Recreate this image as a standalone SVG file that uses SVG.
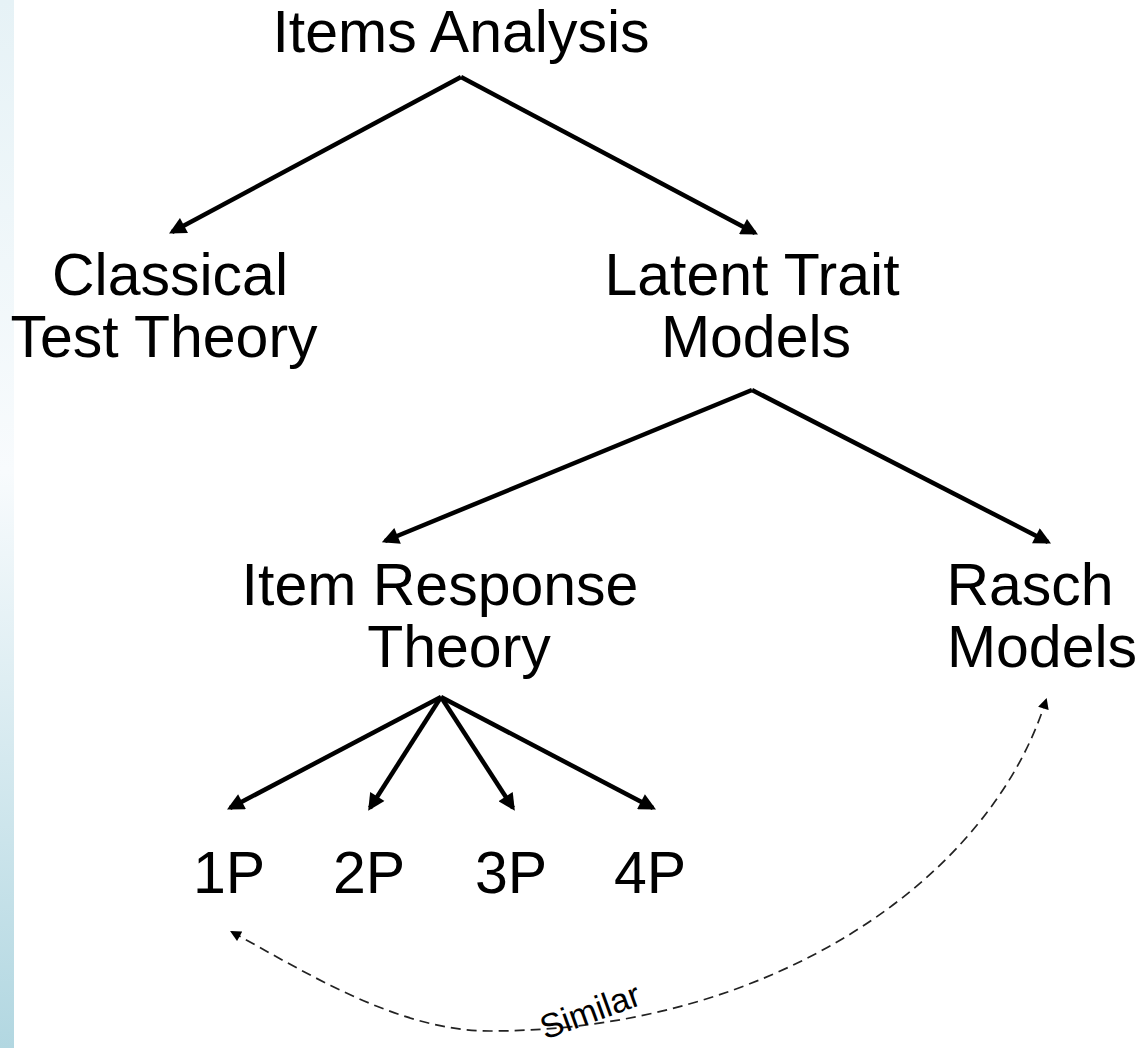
<svg xmlns="http://www.w3.org/2000/svg" width="1143" height="1048" viewBox="0 0 1143 1048">
  <defs>
    <linearGradient id="strip" x1="0" y1="0" x2="0" y2="1">
      <stop offset="0" stop-color="#e6f2f6"/>
      <stop offset="0.45" stop-color="#f8fbfd"/>
      <stop offset="1" stop-color="#b2d7e1"/>
    </linearGradient>
    <marker id="arr" viewBox="0 0 10 10" refX="8" refY="5" markerUnits="userSpaceOnUse" markerWidth="20" markerHeight="17" orient="auto">
      <path d="M0,0 L10,5 L0,10 z" fill="#000"/>
    </marker>
    <marker id="arrs" viewBox="0 0 10 10" refX="8" refY="5" markerUnits="userSpaceOnUse" markerWidth="12" markerHeight="11" orient="auto-start-reverse">
      <path d="M0,0 L10,5 L0,10 z" fill="#000"/>
    </marker>
  </defs>
  <style>
    text { font-family: "Liberation Sans", Arial, sans-serif; fill: #000; text-anchor: middle; }
    .lbl { font-size: 59px; }
    .sm { font-size: 34px; }
    .c { stroke: #000; stroke-width: 4.5; fill: none; marker-end: url(#arr); }
    .d { stroke: #222; stroke-width: 1.7; fill: none; stroke-dasharray: 10 6; }
  </style>
  <rect x="0" y="0" width="1143" height="1048" fill="#fff"/>
  <rect x="0" y="0" width="14" height="1048" fill="url(#strip)"/>

  <g id="connectors">
    <line class="c" x1="461" y1="77" x2="172" y2="232"/>
    <line class="c" x1="461" y1="77" x2="755" y2="233"/>
    <line class="c" x1="752" y1="390" x2="385" y2="541"/>
    <line class="c" x1="752" y1="390" x2="1048" y2="542"/>
    <line class="c" x1="441" y1="697" x2="230" y2="808"/>
    <line class="c" x1="441" y1="697" x2="370" y2="808"/>
    <line class="c" x1="441" y1="697" x2="513" y2="808"/>
    <line class="c" x1="441" y1="697" x2="653" y2="808"/>
    <path class="d" d="M232,932 C310,975 400,1031 490,1031 C770,1031 990,880 1046,700" marker-start="url(#arrs)" marker-end="url(#arrs)"/>
    <text class="sm" transform="translate(594,1022) rotate(-20)">Similar</text>
  </g>

  <g id="n-items"><text class="lbl" x="461" y="52">Items Analysis</text></g>
  <g id="n-ctt"><text class="lbl" x="170" y="295">Classical</text><text class="lbl" x="164" y="357">Test Theory</text></g>
  <g id="n-ltm"><text class="lbl" x="752" y="295">Latent Trait</text><text class="lbl" x="756" y="357">Models</text></g>
  <g id="n-irt"><text class="lbl" x="440" y="605">Item Response</text><text class="lbl" x="459" y="667">Theory</text></g>
  <g id="n-rasch"><text class="lbl" x="1030" y="605">Rasch</text><text class="lbl" x="1042" y="667">Models</text></g>
  <g id="n-1p"><text class="lbl" x="229" y="893">1P</text></g>
  <g id="n-2p"><text class="lbl" x="369" y="893">2P</text></g>
  <g id="n-3p"><text class="lbl" x="511" y="893">3P</text></g>
  <g id="n-4p"><text class="lbl" x="650" y="893">4P</text></g>
</svg>
